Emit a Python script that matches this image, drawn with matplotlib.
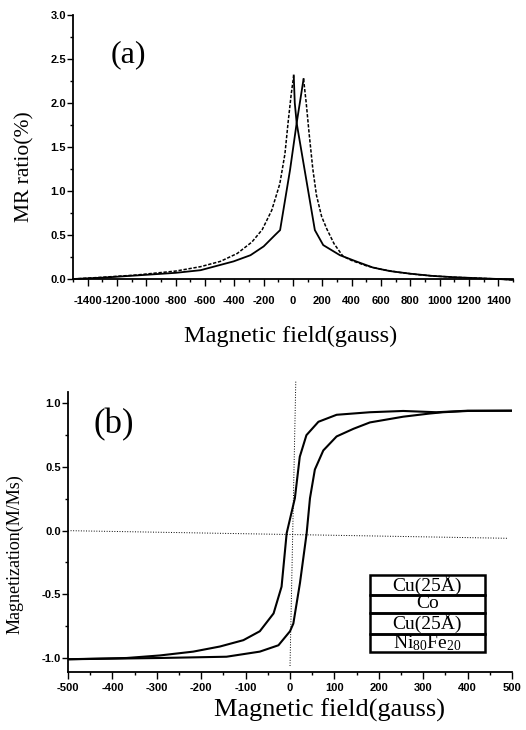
import matplotlib
matplotlib.use('Agg')
import matplotlib.pyplot as plt
from matplotlib.ticker import MultipleLocator
from matplotlib.patches import Rectangle

plt.rcParams['font.family'] = 'Liberation Serif'
plt.rcParams['mathtext.fontset'] = 'custom'
plt.rcParams['mathtext.rm'] = 'Liberation Serif'
plt.rcParams['mathtext.it'] = 'Liberation Serif:italic'
plt.rcParams['axes.unicode_minus'] = False

# (a) MR curves, gauss vs %
# sweep with the peak near 0 G: broad side (dashed) then steep side (solid)
mr1_left_h = [-1500, -1300, -1070, -800, -630, -495, -380, -280, -210, -145, -90, -55, -32, -12, 5]
mr1_left_r = [0.0, 0.02, 0.045, 0.09, 0.14, 0.20, 0.29, 0.42, 0.56, 0.78, 1.08, 1.42, 1.80, 2.10, 2.31]
mr1_right_h = [5, 12, 25, 149, 206, 320, 430, 545, 660, 800, 950, 1100, 1250, 1400, 1500]
mr1_right_r = [2.31, 2.0, 1.77, 0.555, 0.385, 0.27, 0.20, 0.13, 0.09, 0.06, 0.035, 0.02, 0.01, 0.0, -0.01]

# sweep with the peak near 70 G: steep side (solid) then broad side (dashed)
mr2_left_h = [-1500, -1300, -1070, -800, -630, -540, -405, -290, -200, -122, -88, -20, 25, 72]
mr2_left_r = [0.0, 0.015, 0.04, 0.07, 0.10, 0.14, 0.20, 0.27, 0.37, 0.50, 0.555, 1.24, 1.77, 2.27]
mr2_right_h = [72, 90, 110, 135, 160, 195, 230, 280, 340, 400, 500, 600, 725, 850, 950, 1100, 1250, 1400, 1500]
mr2_right_r = [2.27, 2.0, 1.65, 1.25, 0.95, 0.71, 0.57, 0.40, 0.26, 0.21, 0.15, 0.11, 0.075, 0.05, 0.035, 0.02, 0.01, 0.0, -0.01]

# (b) hysteresis loop, M/Ms vs gauss
m_down_h = [500, 400, 330, 255, 180, 105, 64, 37, 22, 11, -7.5, -19, -37, -68, -105, -158, -218, -293, -368, -500]
m_down_m = [0.942, 0.942, 0.93, 0.94, 0.93, 0.91, 0.855, 0.75, 0.58, 0.255, -0.02, -0.44, -0.65, -0.79, -0.86, -0.91, -0.95, -0.98, -1.0, -1.01]
m_up_h = [-500, -293, -143, -68, -26, 0, 7.5, 22.5, 37.5, 45, 56, 75, 105, 143, 180, 255, 315, 345, 400, 500]
m_up_m = [-1.01, -1.0, -0.99, -0.95, -0.9, -0.79, -0.73, -0.41, -0.02, 0.255, 0.48, 0.63, 0.74, 0.80, 0.85, 0.895, 0.92, 0.93, 0.94, 0.942]

# dotted reference lines through the origin
zero_h_line = [-500, 490]
zero_m_line = [0.0, -0.06]
vert_h_line = [13, 0]
vert_m_line = [1.17, -1.07]

layers = ['Cu(25Å)', 'Co', 'Cu(25Å)', 'Ni$_{80}$Fe$_{20}$']
layer_edges = [-0.347, -0.504, -0.647, -0.810, -0.956]

W, H = 526, 730
fig = plt.figure(figsize=(W / 100, H / 100), dpi=100)

tick_font = dict(family='Liberation Sans', weight='bold', size=8)

# ---- panel (a)
ax1 = fig.add_axes([73 / W, 1 - 279 / H, 440 / W, 264.3 / H])
ax1.plot(mr1_left_h, mr1_left_r, color='k', lw=1.1, ls=(0, (2.2, 1.1)), clip_on=False)
ax1.plot(mr1_right_h, mr1_right_r, color='k', lw=1.3, clip_on=False)
ax1.plot(mr2_left_h, mr2_left_r, color='k', lw=1.3, clip_on=False)
ax1.plot(mr2_right_h, mr2_right_r, color='k', lw=1.1, ls=(0, (2.2, 1.1)), clip_on=False)
ax1.set_xlim(-1500, 1500)
ax1.set_ylim(0, 3.0)
ax1.xaxis.set_minor_locator(MultipleLocator(100))
ax1.yaxis.set_major_locator(MultipleLocator(0.5))
ax1.yaxis.set_minor_locator(MultipleLocator(0.25))
ax1.set_xticks(range(-1400, 1401, 200))
ax1.tick_params(axis='x', which='major', length=5, width=1, pad=7)
ax1.tick_params(axis='y', which='major', length=4, width=1, pad=1)
ax1.tick_params(which='minor', length=2.5, width=1)
ax1.text(-1125, 2.55, '(a)', fontsize=23, ha='center', va='center')

# ---- panel (b)
ax2 = fig.add_axes([68 / W, 1 - 672 / H, 444 / W, (672 - 380.4) / H])
ax2.plot(zero_h_line, zero_m_line, color='k', lw=0.7, ls=':')
ax2.plot(vert_h_line, vert_m_line, color='k', lw=0.7, ls=':', clip_on=False)
ax2.plot(m_down_h, m_down_m, color='k', lw=1.5)
ax2.plot(m_up_h, m_up_m, color='k', lw=1.5)
ax2.set_xlim(-500, 500)
ax2.set_ylim(-1.11, 1.18)
ax2.spines['left'].set_bounds(-1.11, 1.09)
ax2.xaxis.set_major_locator(MultipleLocator(100))
ax2.xaxis.set_minor_locator(MultipleLocator(50))
ax2.set_yticks([-1.0, -0.5, 0.0, 0.5, 1.0])
ax2.yaxis.set_minor_locator(MultipleLocator(0.25))
ax2.tick_params(axis='x', which='major', length=5, width=1, pad=3)
ax2.tick_params(axis='y', which='major', length=4, width=1, pad=1)
ax2.tick_params(which='minor', length=2.5, width=1)
ax2.text(-396, 0.83, '(b)', fontsize=25, ha='center', va='center')

# layer stack of the sample
for i, name in enumerate(layers):
    top, bot = layer_edges[i], layer_edges[i + 1]
    ax2.add_patch(Rectangle((180, bot), 259, top - bot, fill=False,
                            ec='k', lw=1.8))
    ax2.text(309.5, (top + bot) / 2, name, fontsize=14,
             ha='center', va='center')

for ax in (ax1, ax2):
    for s in ('top', 'right'):
        ax.spines[s].set_visible(False)
    for s in ('left', 'bottom'):
        ax.spines[s].set_linewidth(1.3)
    for lab in ax.get_xticklabels() + ax.get_yticklabels():
        lab.set_fontproperties(tick_font)

# axis titles
fig.text(25 / W, 1 - 167 / H, 'MR ratio(%)', fontsize=15.5, rotation=90,
         ha='center', va='center')
fig.text(291 / W, 1 - 336 / H, 'Magnetic field(gauss)', fontsize=17.5,
         ha='center', va='center')
fig.text(15 / W, 1 - 554 / H, 'Magnetization(M/Ms)', fontsize=13, rotation=90,
         ha='center', va='center')
fig.text(329 / W, 1 - 710 / H, 'Magnetic field(gauss)', fontsize=19,
         ha='center', va='center')

fig.savefig('out.png', dpi=100)
